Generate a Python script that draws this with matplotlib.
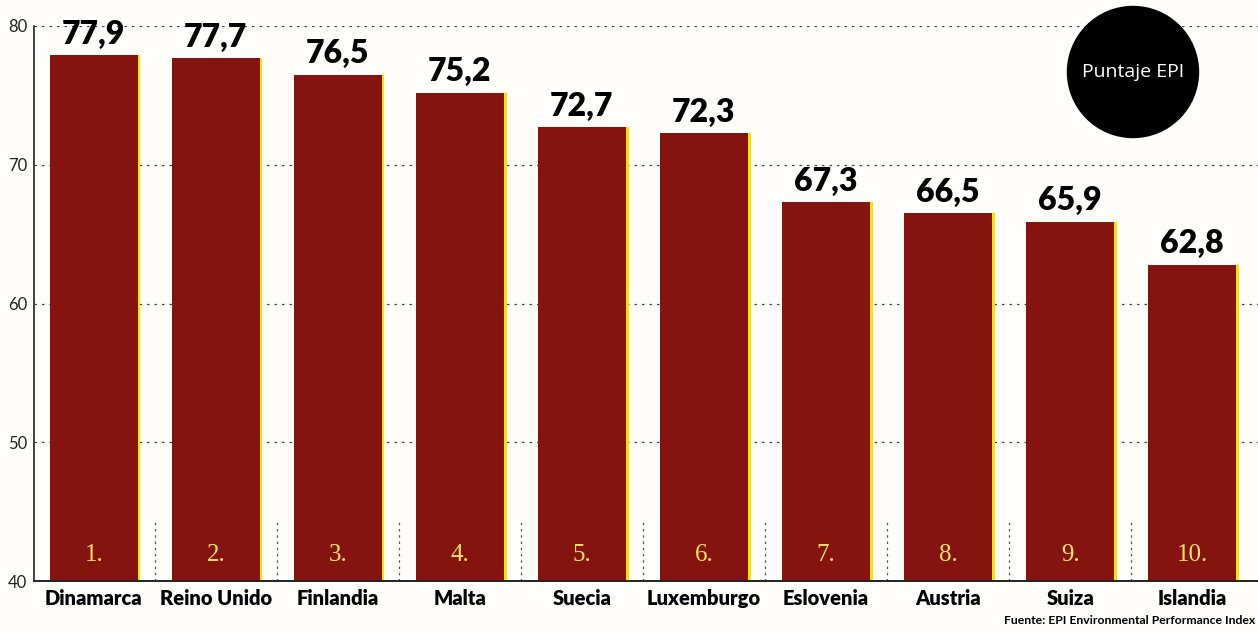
import matplotlib.pyplot as plt
from matplotlib.patches import Circle

paises = ["Dinamarca", "Reino Unido", "Finlandia", "Malta", "Suecia",
          "Luxemburgo", "Eslovenia", "Austria", "Suiza", "Islandia"]
puntajes = [77.9, 77.7, 76.5, 75.2, 72.7, 72.3, 67.3, 66.5, 65.9, 62.8]
rangos = ["1.", "2.", "3.", "4.", "5.", "6.", "7.", "8.", "9.", "10."]
ticks_y = [40, 50, 60, 70, 80]

fig = plt.figure(figsize=(12.58, 6.31), dpi=100)
fig.patch.set_facecolor("#fffefa")
ax = fig.add_axes([34/1258, 50/631, 1 - 34/1258, 555/631])
ax.set_facecolor("none")

x = list(range(len(paises)))
ancho = 0.72

# grid lines (dotted)
for v in [50, 60, 70, 80]:
    ax.axhline(v, color="#444444", lw=0.9, ls=(0, (2, 4)), zorder=0)

# short dotted separators between bars
for i in range(len(paises) - 1):
    ax.vlines(i + 0.5, 40, 44.4, color="#555555", lw=0.9, ls=(0, (2, 3)), zorder=0)

# yellow edge behind, then red bar
ax.bar([i + 0.022 for i in x], [p - 40 for p in puntajes], width=ancho, bottom=40,
       color="#f5e400", zorder=1)
ax.bar(x, [p - 40 for p in puntajes], width=ancho, bottom=40,
       color="#851411", zorder=2)

for i, p in enumerate(puntajes):
    ax.text(i, p + 0.45, f"{p:.1f}".replace(".", ","), ha="center", va="bottom",
            fontsize=23, fontweight="heavy", family="Lato", color="black")
    ax.text(i, 41.9, rangos[i], ha="center", va="center", fontsize=18,
            family="Liberation Serif", color="#f3e36a", zorder=3)

ax.set_xlim(-0.49, 9.54)
ax.set_ylim(40, 80)
ax.set_yticks(ticks_y)
ax.set_yticklabels([str(t) for t in ticks_y], fontsize=12, family="Lato", color="#222222")
ax.set_xticks(x)
ax.set_xticklabels(paises, fontsize=14.5, fontweight="heavy", family="Lato")
ax.tick_params(axis="both", length=0)
ax.tick_params(axis="x", pad=6)
ax.tick_params(axis="y", pad=5)

for s in ["top", "right"]:
    ax.spines[s].set_visible(False)
ax.spines["left"].set_linewidth(1.2)
ax.spines["bottom"].set_linewidth(1.4)
ax.spines["left"].set_color("#222222")
ax.spines["bottom"].set_color("#222222")

# black circle with legend text
circ = Circle((11.33, 5.59), 0.655, transform=fig.dpi_scale_trans, color="black", zorder=5)
fig.patches.append(circ)
fig.text(1133/1258, 1 - 72/631, "Puntaje EPI", ha="center", va="center",
         color="white", fontsize=14, family="Open Sans", zorder=6)

fig.text(1255/1258, 1 - 621/631, "Fuente: EPI Environmental Performance Index",
         ha="right", va="center", fontsize=8.8, fontweight="bold", family="Lato")

fig.savefig("out.png", dpi=100, facecolor=fig.get_facecolor())
